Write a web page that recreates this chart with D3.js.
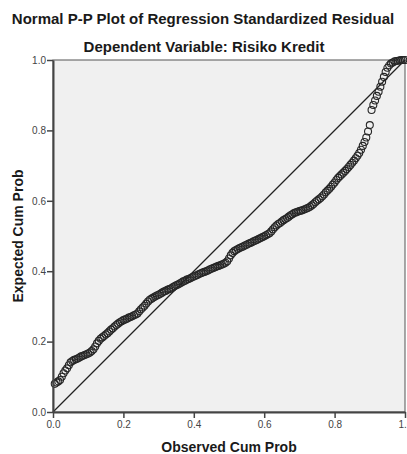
<!DOCTYPE html>
<html>
<head>
<meta charset="utf-8">
<script src="https://cdn.jsdelivr.net/npm/d3@7"></script>
<style>
  body { margin: 0; background: #fff; }
  svg { display: block; font-family: "Liberation Sans", Arial, sans-serif; }
</style>
</head>
<body>
<svg id="chart"></svg>
<script>
// values
const observed = [
  0.005,0.010,0.015,0.020,0.025,0.030,0.035,0.040,0.045,0.050,
  0.055,0.060,0.065,0.070,0.075,0.080,0.085,0.090,0.095,0.100,
  0.105,0.110,0.115,0.120,0.125,0.130,0.135,0.140,0.145,0.150,
  0.155,0.160,0.165,0.170,0.175,0.180,0.185,0.190,0.195,0.200,
  0.205,0.210,0.215,0.220,0.225,0.230,0.235,0.240,0.245,0.250,
  0.255,0.260,0.265,0.270,0.275,0.280,0.285,0.290,0.295,0.300,
  0.305,0.310,0.315,0.320,0.325,0.330,0.335,0.340,0.345,0.350,
  0.355,0.360,0.365,0.370,0.375,0.380,0.385,0.390,0.395,0.400,
  0.405,0.410,0.415,0.420,0.425,0.430,0.435,0.440,0.445,0.450,
  0.455,0.460,0.465,0.470,0.475,0.480,0.485,0.490,0.495,0.500,
  0.505,0.510,0.515,0.520,0.525,0.530,0.535,0.540,0.545,0.550,
  0.555,0.560,0.565,0.570,0.575,0.580,0.585,0.590,0.595,0.600,
  0.605,0.610,0.615,0.620,0.625,0.630,0.635,0.640,0.645,0.650,
  0.655,0.660,0.665,0.670,0.675,0.680,0.685,0.690,0.695,0.700,
  0.705,0.710,0.715,0.720,0.725,0.730,0.735,0.740,0.745,0.750,
  0.755,0.760,0.765,0.770,0.775,0.780,0.785,0.790,0.795,0.800,
  0.805,0.810,0.815,0.820,0.825,0.830,0.835,0.840,0.845,0.850,
  0.855,0.860,0.865,0.870,0.875,0.880,0.885,0.890,0.895,0.900,
  0.905,0.910,0.915,0.920,0.925,0.930,0.935,0.940,0.945,0.950,
  0.955,0.960,0.965,0.970,0.975,0.980,0.985,0.990,0.995,1.000
];
const expected = [
  0.080,0.084,0.087,0.091,0.100,0.110,0.118,0.124,0.133,0.141,
  0.145,0.148,0.150,0.152,0.155,0.158,0.160,0.162,0.164,0.166,
  0.169,0.173,0.178,0.186,0.195,0.202,0.208,0.212,0.216,0.220,
  0.224,0.229,0.234,0.238,0.243,0.247,0.251,0.255,0.258,0.261,
  0.263,0.265,0.268,0.270,0.272,0.275,0.277,0.280,0.286,0.292,
  0.297,0.302,0.308,0.314,0.319,0.322,0.325,0.328,0.331,0.333,
  0.336,0.339,0.342,0.344,0.347,0.349,0.351,0.354,0.357,0.360,
  0.362,0.365,0.368,0.371,0.373,0.376,0.378,0.380,0.383,0.385,
  0.387,0.389,0.392,0.394,0.396,0.398,0.400,0.402,0.405,0.407,
  0.409,0.411,0.413,0.415,0.417,0.419,0.421,0.424,0.428,0.436,
  0.445,0.452,0.457,0.460,0.463,0.466,0.468,0.470,0.473,0.475,
  0.478,0.480,0.482,0.485,0.487,0.489,0.492,0.494,0.497,0.499,
  0.502,0.505,0.508,0.513,0.519,0.525,0.530,0.534,0.537,0.541,
  0.545,0.548,0.551,0.555,0.559,0.562,0.565,0.567,0.569,0.571,
  0.572,0.574,0.576,0.578,0.580,0.583,0.587,0.591,0.596,0.600,
  0.604,0.608,0.613,0.618,0.624,0.629,0.634,0.640,0.646,0.652,
  0.659,0.665,0.670,0.675,0.680,0.685,0.690,0.696,0.702,0.708,
  0.714,0.721,0.728,0.736,0.745,0.756,0.767,0.780,0.797,0.815,
  0.858,0.872,0.885,0.898,0.910,0.924,0.938,0.952,0.966,0.978,
  0.985,0.990,0.993,0.996,0.997,0.998,0.999,1.000,1.000,1.000
];
const tickValues = [0, 0.2, 0.4, 0.6, 0.8, 1.0];
const titleText = "Normal P-P Plot of Regression Standardized Residual";
const subtitleText = "Dependent Variable: Risiko Kredit";
const xLabel = "Observed Cum Prob";
const yLabel = "Expected Cum Prob";

const width = 407, height = 454;
const margin = { top: 60, right: 2, bottom: 42, left: 53 };
const plotW = 352, plotH = 352;

const svg = d3.select("#chart")
  .attr("width", width)
  .attr("height", height);

// titles
svg.append("text")
  .attr("x", 203).attr("y", 24)
  .attr("text-anchor", "middle")
  .style("font-size", "15px").style("font-weight", "bold").style("fill", "#1a1a1a")
  .text(titleText);

svg.append("text")
  .attr("x", 204).attr("y", 52)
  .attr("text-anchor", "middle")
  .style("font-size", "15px").style("font-weight", "bold").style("fill", "#1a1a1a")
  .text(subtitleText);

const x = d3.scaleLinear().domain([0, 1]).range([0, plotW]);
const y = d3.scaleLinear().domain([0, 1]).range([plotH, 0]);

const chart = svg.append("g")
  .attr("transform", `translate(${margin.left},${margin.top})`);

// plot background + thin frame
chart.append("rect")
  .attr("width", plotW).attr("height", plotH)
  .attr("fill", "#f0f0f0")
  .attr("stroke", "#555").attr("stroke-width", 1);

// diagonal reference line
chart.append("line")
  .attr("x1", x(0)).attr("y1", y(0))
  .attr("x2", x(1)).attr("y2", y(1))
  .attr("stroke", "#222").attr("stroke-width", 1.2);

// points
const points = observed.map((o, i) => ({ obs: o, exp: expected[i] }));
chart.append("g")
  .selectAll("circle")
  .data(points)
  .join("circle")
  .attr("cx", d => x(d.obs))
  .attr("cy", d => y(d.exp))
  .attr("r", 3.5)
  .attr("fill", "none")
  .attr("stroke", "#262626")
  .attr("stroke-width", 1.1);

// axes
const fmt = d3.format(".1f");
const xAxis = d3.axisBottom(x).tickValues(tickValues).tickFormat(fmt).tickSize(6).tickSizeOuter(0).tickPadding(3);
const yAxis = d3.axisLeft(y).tickValues(tickValues).tickFormat(fmt).tickSize(6).tickSizeOuter(0).tickPadding(1);

const xAxisG = chart.append("g")
  .attr("transform", `translate(0,${plotH})`)
  .call(xAxis);
const yAxisG = chart.append("g").call(yAxis);

[xAxisG, yAxisG].forEach(g => {
  g.select(".domain").attr("stroke", "#444").attr("stroke-width", 2);
  g.selectAll(".tick line").attr("stroke", "#444").attr("stroke-width", 1.5);
  g.selectAll(".tick text")
    .style("font-size", "10px")
    .style("font-family", "'Liberation Sans', Arial, sans-serif")
    .attr("fill", "#444");
});

// axis titles
svg.append("text")
  .attr("x", margin.left + plotW / 2).attr("y", 452)
  .attr("text-anchor", "middle")
  .style("font-size", "14px").style("font-weight", "bold").style("fill", "#1a1a1a")
  .text(xLabel);

svg.append("text")
  .attr("transform", `translate(23,${margin.top + plotH / 2}) rotate(-90)`)
  .attr("text-anchor", "middle")
  .style("font-size", "14px").style("font-weight", "bold").style("fill", "#1a1a1a")
  .text(yLabel);
</script>
</body>
</html>
